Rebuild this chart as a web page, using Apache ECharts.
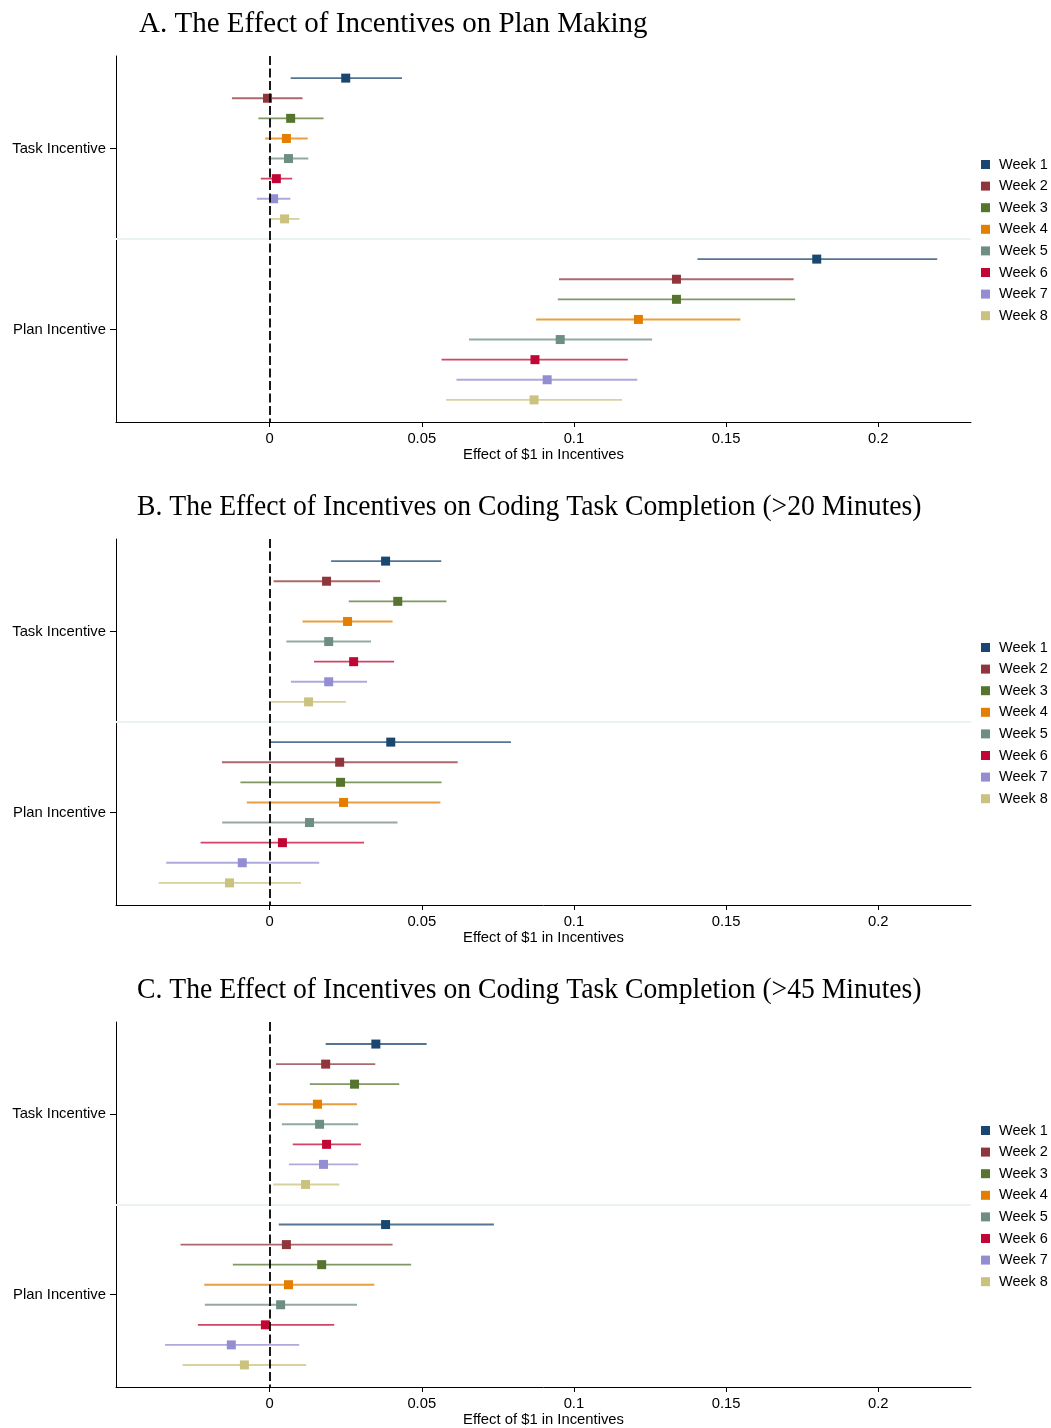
<!DOCTYPE html>
<html><head><meta charset="utf-8">
<script src="https://cdn.jsdelivr.net/npm/echarts@6/dist/echarts.min.js"></script>
<style>html,body{margin:0;padding:0;background:#fff}#c{width:1051px;height:1428px}</style>
</head><body><div id="c"></div>
<script>
const weeks = ['Week 1','Week 2','Week 3','Week 4','Week 5','Week 6','Week 7','Week 8'];
const groups = ['Task Incentive', 'Plan Incentive'];
const panelTitles = [
  'A. The Effect of Incentives on Plan Making',
  'B. The Effect of Incentives on Coding Task Completion (>20 Minutes)',
  'C. The Effect of Incentives on Coding Task Completion (>45 Minutes)'
];
const xTicks = [0, 0.05, 0.1, 0.15, 0.2];
const xAxisName = 'Effect of $1 in Incentives';
const colors = ['#1a476f','#90353b','#55752f','#e37e00','#6e8e84','#c10534','#938dd2','#cac27e'];

// Panel A
const aTaskEst = [0.0250, -0.0007, 0.0069, 0.0055, 0.0062, 0.0022, 0.0013, 0.0049];
const aTaskLo  = [0.0069, -0.0124, -0.0037, -0.0015, -0.0004, -0.0029, -0.0042, 0.0002];
const aTaskHi  = [0.0435, 0.0108, 0.0177, 0.0125, 0.0127, 0.0074, 0.0068, 0.0098];
const aPlanEst = [0.1798, 0.1337, 0.1337, 0.1212, 0.0955, 0.0872, 0.0912, 0.0869];
const aPlanLo  = [0.1406, 0.0951, 0.0947, 0.0876, 0.0655, 0.0565, 0.0614, 0.0580];
const aPlanHi  = [0.2194, 0.1722, 0.1727, 0.1547, 0.1257, 0.1177, 0.1208, 0.1158];
// Panel B
const bTaskEst = [0.0381, 0.0187, 0.0421, 0.0256, 0.0194, 0.0276, 0.0194, 0.0128];
const bTaskLo  = [0.0202, 0.0013, 0.0260, 0.0108, 0.0055, 0.0146, 0.0070, 0.0005];
const bTaskHi  = [0.0564, 0.0363, 0.0581, 0.0404, 0.0333, 0.0409, 0.0320, 0.0251];
const bPlanEst = [0.0398, 0.0230, 0.0233, 0.0243, 0.0131, 0.0042, -0.0090, -0.0132];
const bPlanLo  = [0.0002, -0.0157, -0.0096, -0.0075, -0.0156, -0.0227, -0.0340, -0.0365];
const bPlanHi  = [0.0793, 0.0618, 0.0565, 0.0561, 0.0420, 0.0310, 0.0163, 0.0103];
// Panel C
const cTaskEst = [0.0349, 0.0184, 0.0279, 0.0157, 0.0164, 0.0187, 0.0177, 0.0118];
const cTaskLo  = [0.0184, 0.0021, 0.0132, 0.0026, 0.0040, 0.0076, 0.0063, 0.0012];
const cTaskHi  = [0.0516, 0.0347, 0.0426, 0.0287, 0.0291, 0.0300, 0.0291, 0.0229];
const cPlanEst = [0.0381, 0.0055, 0.0171, 0.0062, 0.0036, -0.0014, -0.0126, -0.0083];
const cPlanLo  = [0.0030, -0.0293, -0.0121, -0.0215, -0.0213, -0.0236, -0.0344, -0.0286];
const cPlanHi  = [0.0737, 0.0404, 0.0465, 0.0344, 0.0287, 0.0212, 0.0097, 0.0120];

const panels = [
  {task: [aTaskEst, aTaskLo, aTaskHi], plan: [aPlanEst, aPlanLo, aPlanHi]},
  {task: [bTaskEst, bTaskLo, bTaskHi], plan: [bPlanEst, bPlanLo, bPlanHi]},
  {task: [cTaskEst, cTaskLo, cTaskHi], plan: [cPlanEst, cPlanLo, cPlanHi]}
];

const SANS = 'Liberation Sans';
const SERIF = 'Liberation Serif';
const FS = 14.8;
const gridTops = [56, 539, 1022];
const gridH = 366;
const legendTops = [157, 640, 1123];
const titleYs = [24, 507, 990];
const titleScaleX = [1, 0.953, 0.953];
const titleXs = [139, 137, 137];

const grid = [], xAxis = [], yAxis = [], series = [], legend = [], graphic = [];

panels.forEach((p, pi) => {
  grid.push({left: 116, right: 80, top: gridTops[pi], height: gridH, containLabel: false});
  xAxis.push({
    type: 'value', gridIndex: pi, min: -0.0505, max: 0.2305,
    name: xAxisName, nameLocation: 'middle', nameGap: 25,
    nameTextStyle: {fontFamily: SANS, fontSize: FS, color: '#000'},
    axisLine: {show: true, onZero: false, lineStyle: {color: '#000', width: 1}},
    axisTick: {show: true, length: 5, customValues: xTicks, lineStyle: {color: '#000'}},
    axisLabel: {show: true, customValues: xTicks, margin: 9, fontFamily: SANS, fontSize: FS, color: '#000',
      formatter: v => String(v)},
    splitLine: {show: false}
  });
  yAxis.push({
    type: 'value', gridIndex: pi, inverse: true, min: -0.1, max: 18.1,
    axisLine: {show: true, onZero: false, lineStyle: {color: '#000', width: 1}},
    axisTick: {show: true, length: 6, customValues: [4.5, 13.5], lineStyle: {color: '#000'}},
    axisLabel: {show: true, customValues: [4.5, 13.5], margin: 10, fontFamily: SANS, fontSize: FS, color: '#000',
      formatter: v => (v < 9 ? groups[0] : groups[1])},
    splitLine: {show: false}
  });
  // CI lines
  const ciData = [];
  [p.task, p.plan].forEach((g, gi) => {
    for (let k = 0; k < 8; k++) {
      ciData.push([g[1][k], g[2][k], gi * 9 + k + 1, k]);
    }
  });
  series.push({
    type: 'custom', xAxisIndex: pi, yAxisIndex: pi, z: 2, silent: true,
    data: ciData, encode: {x: [0, 1], y: 2},
    renderItem: (params, api) => {
      const a = api.coord([api.value(0), api.value(2)]);
      const b = api.coord([api.value(1), api.value(2)]);
      return {type: 'line', shape: {x1: a[0], y1: a[1], x2: b[0], y2: b[1]},
        style: {stroke: colors[api.value(3)], lineWidth: 1.9, opacity: 0.75}};
    }
  });
  // point estimates
  for (let k = 0; k < 8; k++) {
    const s = {
      type: 'scatter', name: weeks[k], xAxisIndex: pi, yAxisIndex: pi, z: 4,
      symbol: 'rect', symbolSize: 9, itemStyle: {color: colors[k], opacity: 1},
      data: [[p.task[0][k], k + 1], [p.plan[0][k], 9 + k + 1]], silent: true
    };
    if (k === 0) {
      s.markLine = {
        silent: true, symbol: ['none', 'none'], label: {show: false}, animation: false,
        data: [
          {yAxis: 9, lineStyle: {color: '#eaf2f3', width: 2, type: 'solid'}},
          {xAxis: 0, lineStyle: {color: '#000', width: 1.8, type: [9, 3.5]}}
        ]
      };
    }
    series.push(s);
  }
  legend.push({
    data: weeks, orient: 'vertical', left: 981, top: legendTops[pi], padding: 0,
    icon: 'rect', itemWidth: 9, itemHeight: 9, itemGap: 6.6, selectedMode: false,
    textStyle: {fontFamily: SANS, fontSize: 14.5, lineHeight: 14.6, color: '#000', padding: [0, 0, 0, 4]}
  });
  graphic.push({
    type: 'text', x: titleXs[pi], y: titleYs[pi], scaleX: titleScaleX[pi],
    style: {text: panelTitles[pi], x: 0, y: 0, font: '29px "' + SERIF + '"', fill: '#000',
      align: 'left', verticalAlign: 'middle'}
  });
});

const chart = echarts.init(document.getElementById('c'), null, {renderer: 'canvas'});
chart.setOption({
  animation: false, backgroundColor: '#fff',
  grid, xAxis, yAxis, series, legend, graphic
});
</script></body></html>
